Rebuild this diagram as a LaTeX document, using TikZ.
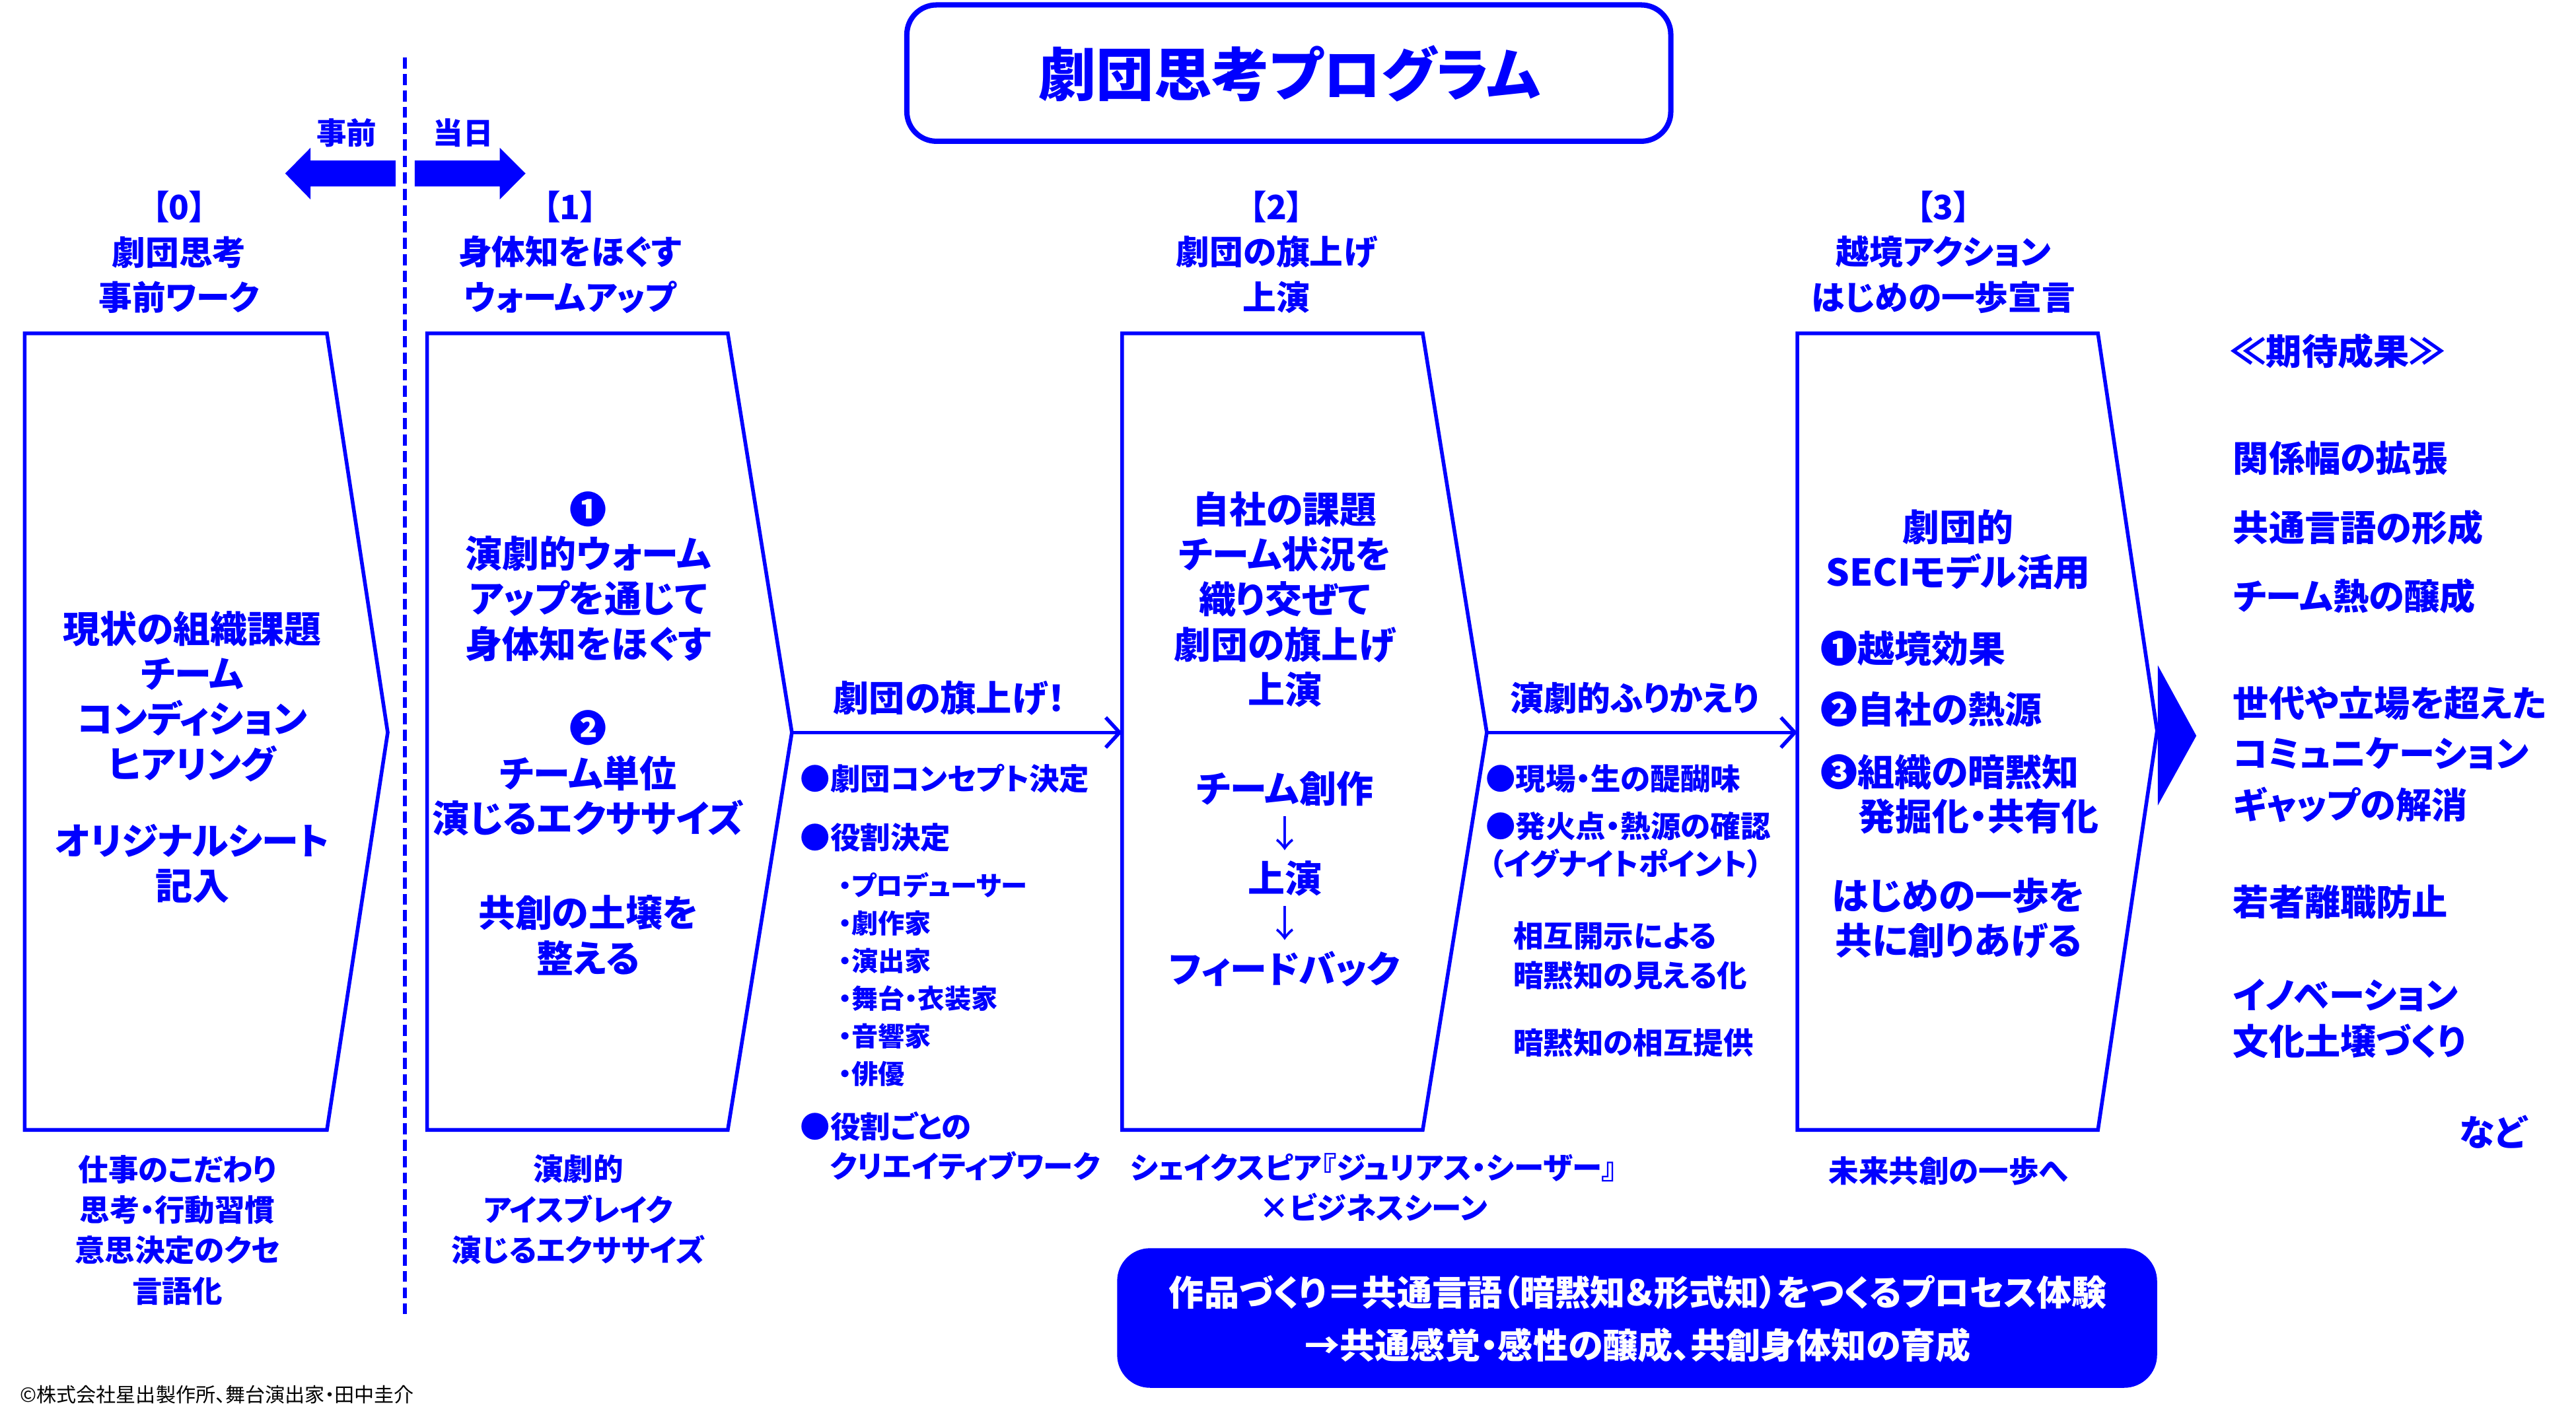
\documentclass[tikz,border=0pt]{standalone}
\usepackage{fontspec}
\setmainfont{Noto Sans CJK JP}[RawFeature=+palt]
\usetikzlibrary{arrows.meta}
\definecolor{bl}{RGB}{0,0,255}
\newcommand\fsz[2]{\fontsize{#1pt}{#2pt}\selectfont}
\newcommand\cn[1]{#1}
\tikzset{
  tx/.style={text=bl, inner sep=0pt, align=center},
  ttl/.style={tx, font=\bfseries\fsz{25}{30}},
  sml/.style={tx, font=\bfseries\fsz{13}{16}},
  hdr/.style={tx, font=\bfseries\fsz{14.5}{19.6}},
  inb/.style={tx, font=\bfseries\fsz{16}{19.5}},
  lab/.style={tx, font=\bfseries\fsz{15.5}{19}},
  lst/.style={tx, font=\bfseries\fsz{13}{16}, anchor=west},
  sub/.style={tx, font=\bfseries\fsz{11.5}{16}, anchor=west},
  bot/.style={tx, font=\bfseries\fsz{13}{17.5}},
  res/.style={tx, font=\bfseries\fsz{15.5}{22}, anchor=west},
  ban/.style={tx, text=white, font=\bfseries\fsz{15.2}{18}},
  boxline/.style={draw=bl, line width=1.6pt, line join=miter},
  conn/.style={draw=bl, line width=1.6pt, -{Straight Barb[length=6pt,width=13pt,line width=1.6pt]}},
}
\newcommand\chev[4]{\draw[boxline] (#1,203) -- (#2,203) -- (#3,#4) -- (#2,688) -- (#1,688) -- cycle;}
\begin{document}
\begin{tikzpicture}[x=0.025cm,y=-0.025cm]
\useasboundingbox (0,0) rectangle (1568,864);
% title
\draw[draw=bl, line width=2.3pt, rounded corners=0.45cm] (552,3) rectangle (1017,86);
\node[ttl] (title) at (785,45) {劇団思考プログラム};
% dashed divider
\draw[bl, line width=1.7pt, dash pattern=on 4.8pt off 2.3pt] (246.6,35) -- (246.6,800);
% block arrows
\fill[bl] (240.8,97.7) -- (189,97.7) -- (189,90) -- (173.6,105.6) -- (189,121.4) -- (189,113.5) -- (240.8,113.5) -- cycle;
\fill[bl] (252.4,97.7) -- (304.2,97.7) -- (304.2,90) -- (319.9,105.6) -- (304.2,121.4) -- (304.2,113.5) -- (252.4,113.5) -- cycle;
\node[sml] (jizen) at (211,81) {事前};
\node[sml] (tojitsu) at (282,81) {当日};
% headers
\node[hdr] (h0) at (109,153.5) {【0】\\劇団思考\\事前ワーク};
\node[hdr] (h1) at (347,153.5) {【1】\\身体知をほぐす\\ウォームアップ};
\node[hdr] (h2) at (777,153.5) {【2】\\劇団の旗上げ\\上演};
\node[hdr] (h3) at (1183,153.5) {【3】\\越境アクション\\はじめの一歩宣言};
% chevron boxes
\chev{15}{199}{236}{446}
\chev{260}{443}{482}{446}
\chev{683}{866}{905}{446}
\chev{1094}{1277}{1313}{445}
\coordinate (b1tip) at (482,446);
\coordinate (b2left) at (683,446);
\coordinate (b2tip) at (905,446);
\coordinate (b3left) at (1094,446);
\fill[bl] (1313.4,405) -- (1336.9,448) -- (1313.4,490.5) -- cycle;
% connectors
\draw[conn] (b1tip) -- (b2left);
\draw[conn] (b2tip) -- (b3left);
\node[lab] (l1) at (578,425) {劇団の旗上げ！};
\node[tx, font=\bfseries\fsz{14.5}{19}] (l2) at (995,425) {演劇的ふりかえり};
% box 0 text
\node[inb] (b0a) at (117,424) {現状の組織課題\\チーム\\コンディション\\ヒアリング};
\node[inb] (b0b) at (117,526) {オリジナルシート\\記入};
% box 1 text
\node[inb] (b1n1) at (358,310) {\cn{❶}};
\node[inb] (b1a) at (358,364.5) {演劇的ウォーム\\アップを通じて\\身体知をほぐす};
\node[inb] (b1n2) at (358,443) {\cn{❷}};
\node[inb] (b1b) at (358,484.5) {チーム単位\\演じるエクササイズ};
\node[inb] (b1c) at (358,569.5) {共創の土壌を\\整える};
% box 2 text
\node[inb] (b2a) at (782,365) {自社の課題\\チーム状況を\\織り交ぜて\\劇団の旗上げ\\上演};
\node[inb] (b2b) at (782,535) {チーム創作\\{\mdseries ↓}\\上演\\{\mdseries ↓}\\フィードバック};
% box 3 text
\node[inb] (b3a) at (1192,334.5) {劇団的\\SECIモデル活用};
\node[inb, anchor=west] (b3n1) at (1108,395) {\cn{❶}越境効果};
\node[inb, anchor=west] (b3n2) at (1108,432) {\cn{❷}自社の熱源};
\node[inb, anchor=west] (b3n3) at (1108,470) {\cn{❸}組織の暗黙知};
\node[inb, anchor=west] (b3n4) at (1131,497) {発掘化・共有化};
\node[inb] (b3b) at (1192,559) {はじめの一歩を\\共に創りあげる};
% list under connector 1
\node[lst] (p1) at (487,474) {●劇団コンセプト決定};
\node[lst] (p2) at (487,510) {●役割決定};
\node[sub] (s1) at (510,539) {・プロデューサー};
\node[sub] (s2) at (510,562) {・劇作家};
\node[sub] (s3) at (510,585) {・演出家};
\node[sub] (s4) at (510,608) {・舞台・衣装家};
\node[sub] (s5) at (510,631) {・音響家};
\node[sub] (s6) at (510,654) {・俳優};
\node[lst] (p3) at (487,686) {●役割ごとの};
\node[lst] (p4) at (505,710) {クリエイティブワーク};
% list under connector 2
\node[lst] (q1) at (904,474) {●現場・生の醍醐味};
\node[lst] (q2) at (904,503) {●発火点・熱源の確認};
\node[lst] (q3) at (906,526) {（イグナイトポイント）};
\node[lst] (q4) at (921,570) {相互開示による};
\node[lst] (q5) at (921,594) {暗黙知の見える化};
\node[lst] (q6) at (921,635) {暗黙知の相互提供};
% bottom texts
\node[bot] (u0) at (108,749) {仕事のこだわり\\思考・行動習慣\\意思決定のクセ\\言語化};
\node[bot] (u1) at (352,736.5) {演劇的\\アイスブレイク\\演じるエクササイズ};
\node[bot] (u2a) at (836,711) {シェイクスピア『ジュリアス・シーザー』};
\node[bot] (u2b) at (836,735) {×ビジネスシーン};
\node[bot] (u3) at (1186,713) {未来共創の一歩へ};
% bottom banner
\fill[bl, rounded corners=0.5cm] (680,760) rectangle (1313,845);
\node[ban] (ban1) at (997,787) {作品づくり＝共通言語（暗黙知＆形式知）をつくるプロセス体験};
\node[ban] (ban2) at (997,819) {→共通感覚・感性の醸成、共創身体知の育成};
% expected results
\node[tx, font=\bfseries\fsz{15.5}{20}] (r0) at (1423,214) {≪期待成果≫};
\node[res] (r1) at (1359,279) {関係幅の拡張};
\node[res] (r2) at (1359,321) {共通言語の形成};
\node[res] (r3) at (1359,363) {チーム熱の醸成};
\node[res] (r4) at (1359,428) {世代や立場を超えた};
\node[res] (r5) at (1359,459) {コミュニケーション};
\node[res] (r6) at (1359,490) {ギャップの解消};
\node[res] (r7) at (1359,549) {若者離職防止};
\node[res] (r8) at (1359,606) {イノベーション};
\node[res] (r9) at (1359,634) {文化土壌づくり};
\node[res, anchor=east] (r10) at (1538,689) {など};
% copyright
\node[inner sep=0pt, anchor=west, text=black, font=\fsz{8.6}{10}] (copy) at (12,849) {©株式会社星出製作所、舞台演出家・田中圭介};
\end{tikzpicture}
\end{document}
